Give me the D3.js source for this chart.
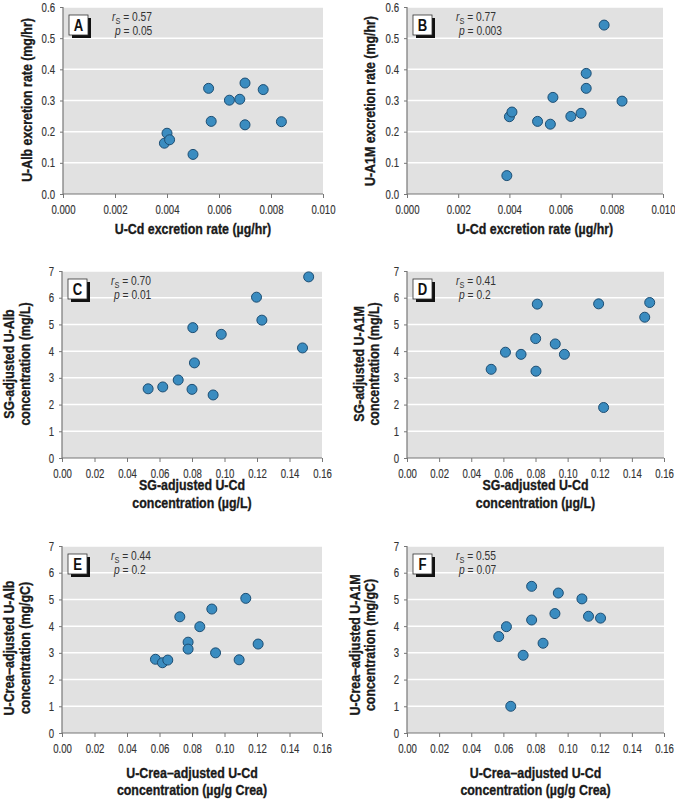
<!DOCTYPE html>
<html><head><meta charset="utf-8">
<script src="https://cdn.jsdelivr.net/npm/d3@7"></script>
<style>body{margin:0;background:#fff}svg{display:block}</style>
</head><body><svg id="c" width="675" height="800"></svg>
<script>
// ---- data ----
const panelIds = ["A","B","C","D","E","F"];
const aX = [0.0039,0.0040,0.0041,0.0050,0.0056,0.0057,0.0064,0.0068,0.0070,0.0070,0.0077,0.0084];
const aY = [0.163,0.195,0.174,0.127,0.339,0.233,0.301,0.304,0.356,0.222,0.335,0.232];
const bX = [0.0039,0.0040,0.0041,0.0051,0.0056,0.0057,0.0064,0.0068,0.0070,0.0070,0.0077,0.0084];
const bY = [0.059,0.248,0.263,0.233,0.224,0.310,0.249,0.259,0.339,0.387,0.542,0.298];
const cX = [0.053,0.062,0.0715,0.080,0.093,0.0815,0.0805,0.098,0.1197,0.123,0.148,0.1518];
const cY = [2.59,2.66,2.92,2.57,2.36,3.56,4.88,4.63,6.02,5.16,4.12,6.78];
const dX = [0.0524,0.0613,0.071,0.0803,0.0801,0.0811,0.0923,0.098,0.1193,0.1224,0.148,0.1511];
const dY = [3.32,3.96,3.88,3.25,4.47,5.76,4.27,3.88,5.77,1.89,5.27,5.82];
const eX = [0.0575,0.0618,0.0651,0.0725,0.0776,0.0776,0.0848,0.0922,0.0945,0.109,0.1131,0.1207];
const eY = [2.76,2.63,2.73,4.35,3.40,3.14,3.98,4.64,3.00,2.74,5.04,3.33];
const fX = [0.0571,0.0619,0.0646,0.0723,0.0776,0.0776,0.0847,0.0921,0.0942,0.1089,0.113,0.1205];
const fY = [3.61,3.98,1.00,2.91,4.23,5.49,3.36,4.47,5.24,5.02,4.37,4.30];
const rsVals = ["0.57","0.77","0.70","0.41","0.44","0.55"];
const pVals = ["0.05","0.003","0.01","0.2","0.2","0.07"];
const xTicksRate = [0,0.002,0.004,0.006,0.008,0.010];
const yTicksRate = [0,0.1,0.2,0.3,0.4,0.5,0.6];
const xTicksConc = [0,0.02,0.04,0.06,0.08,0.10,0.12,0.14,0.16];
const yTicksConc = [0,1,2,3,4,5,6,7];
const yTitles = [
  ["U-Alb excretion rate (mg/hr)"],
  ["U-A1M excretion rate (mg/hr)"],
  ["SG-adjusted U-Alb","concentration (mg/L)"],
  ["SG-adjusted U-A1M","concentration (mg/L)"],
  ["U-Crea\u2013adjusted U-Alb","concentration (mg/gC)"],
  ["U-Crea\u2013adjusted U-A1M","concentration (mg/gC)"]
];
const xTitles = [
  ["U-Cd excretion rate (\u00b5g/hr)"],
  ["U-Cd excretion rate (\u00b5g/hr)"],
  ["SG-adjusted U-Cd","concentration (\u00b5g/L)"],
  ["SG-adjusted U-Cd","concentration (\u00b5g/L)"],
  ["U-Crea\u2013adjusted U-Cd","concentration (\u00b5g/g Crea)"],
  ["U-Crea\u2013adjusted U-Cd","concentration (\u00b5g/g Crea)"]
];

// ---- layout ----
const FN = '"Liberation Sans",Arial,sans-serif';
const SQ = 0.82; // horizontal condensing
const layout = [
  {l:63,r:323,t:7,b:194, yl:[32], ycy:100, xb:[234]},
  {l:407,r:663,t:7,b:194, yl:[375], ycy:101, xb:[234]},
  {l:62,r:322,t:271,b:458, yl:[14,30], ycy:364, xb:[490,508]},
  {l:407,r:664,t:271,b:458, yl:[364,379], ycy:364, xb:[490,508]},
  {l:62,r:322,t:546,b:733, yl:[14,30], ycy:648, xb:[778,795]},
  {l:407,r:664,t:546,b:733, yl:[360,375], ycy:645, xb:[778,795]}
];
const xs = [aX,bX,cX,dX,eX,fX], ys = [aY,bY,cY,dY,eY,fY];

const svg = d3.select("#c");
svg.append("rect").attr("width",675).attr("height",800).attr("fill","#fff");

function ctext(g, x, y, rot, size, bold, sq){
  return g.append("text")
    .attr("transform",`translate(${x},${y}) rotate(${rot}) scale(${sq||SQ},1)`)
    .attr("font-family",FN).attr("font-size",size).attr("font-weight",bold?"bold":"normal");
}

panelIds.forEach((id,i)=>{
  const L = layout[i];
  const rate = i<2;
  const xT = rate ? xTicksRate : xTicksConc;
  const yT = rate ? yTicksRate : yTicksConc;
  const x = d3.scaleLinear().domain([xT[0], xT[xT.length-1]]).range([L.l, L.r]);
  const y = d3.scaleLinear().domain([yT[0], yT[yT.length-1]]).range([L.b, L.t]);
  const g = svg.append("g");
  g.append("rect").attr("x",L.l).attr("y",L.t).attr("width",L.r-L.l).attr("height",L.b-L.t).attr("fill","#e1e1e1");
  g.selectAll("line.grid").data(yT.slice(1)).join("line")
    .attr("x1",L.l).attr("x2",L.r).attr("y1",d=>y(d)).attr("y2",d=>y(d))
    .attr("stroke","#fff").attr("stroke-width",1.5);
  const xa = g.append("g").attr("transform",`translate(0,${L.b})`)
    .call(d3.axisBottom(x).tickValues(xT).tickSize(4).tickPadding(7).tickFormat(d3.format(rate?".3f":".2f")));
  const ya = g.append("g").attr("transform",`translate(${L.l},0)`)
    .call(d3.axisLeft(y).tickValues(yT).tickSize(3).tickPadding(5).tickFormat(d3.format(rate?".1f":"d")));
  [xa,ya].forEach(a=>{
    a.select(".domain").attr("stroke","#777").attr("stroke-width",1.2);
    a.selectAll(".tick line").attr("stroke","#777");
    a.selectAll("text").attr("font-family",FN).attr("font-size",12.5).attr("fill","#333")
      .attr("stroke","#333").attr("stroke-width",0.15)
      .each(function(){
        const w = this.getComputedTextLength();
        d3.select(this).attr("textLength", w*0.77).attr("lengthAdjust","spacingAndGlyphs");
      });
  });
  ya.select(".domain").attr("d",`M0,${L.b}V${L.t}`);
  xa.select(".domain").attr("d",`M${L.l},0H${L.r}`);
  // dots
  g.selectAll("circle").data(xs[i].map((v,k)=>[v,ys[i][k]])).join("circle")
    .attr("cx",d=>x(d[0])).attr("cy",d=>y(d[1])).attr("r",5)
    .attr("fill","#3a8cc0").attr("stroke","#1d4e73").attr("stroke-width",1);
  // panel letter box
  const bx = L.l+6, by = L.t+8;
  g.append("rect").attr("x",bx+3).attr("y",by+3).attr("width",19).attr("height",20).attr("fill","#111");
  g.append("rect").attr("x",bx).attr("y",by).attr("width",19).attr("height",20).attr("fill","#fff").attr("stroke","#333").attr("stroke-width",0.8);
  ctext(g, bx+9.5, by+15.5, 0, 16, true).attr("text-anchor","middle").attr("fill","#111").text(id);
  // stats
  const st = ctext(g, L.l+49, L.t+14, 0, 12.5, false).attr("fill","#333");
  st.append("tspan").attr("font-style","italic").text("r");
  st.append("tspan").attr("font-size",9).attr("dy",3).text("S");
  st.append("tspan").attr("dy",-3).text(" = "+rsVals[i]);
  const pt = ctext(g, L.l+52, L.t+28, 0, 12.5, false).attr("fill","#333");
  pt.append("tspan").attr("font-style","italic").text("p");
  pt.append("tspan").text(" = "+pVals[i]);
  // y title
  yTitles[i].forEach((s,k)=>{
    ctext(g, L.yl[k], L.ycy, -90, 15.5, true, 0.8).attr("text-anchor","middle").attr("fill","#1a1a1a")
      .attr("stroke","#1a1a1a").attr("stroke-width",0.35).text(s);
  });
  // x title
  xTitles[i].forEach((s,k)=>{
    ctext(g, (L.l+L.r)/2, L.xb[k], 0, 15.5, true, 0.8).attr("text-anchor","middle").attr("fill","#1a1a1a")
      .attr("stroke","#1a1a1a").attr("stroke-width",0.35).text(s);
  });
});
</script></body></html>
